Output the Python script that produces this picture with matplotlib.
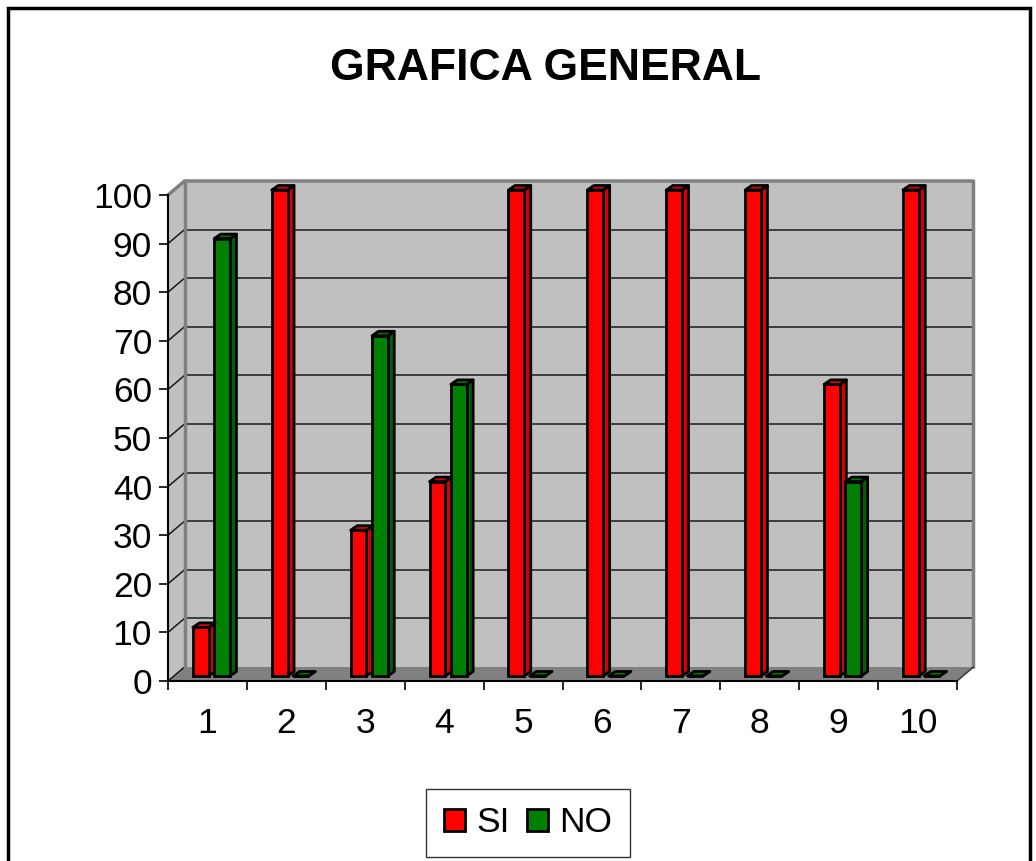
import matplotlib
matplotlib.use("Agg")
import matplotlib.pyplot as plt
from matplotlib.patches import Polygon, Patch, Rectangle

plt.rcParams['font.family'] = ['Liberation Sans', 'DejaVu Sans']

# data
categories = [1, 2, 3, 4, 5, 6, 7, 8, 9, 10]
si_values = [10, 100, 30, 40, 100, 100, 100, 100, 60, 100]
no_values = [90, 0, 70, 60, 0, 0, 0, 0, 40, 0]
series_names = ["SI", "NO"]
title = "GRAFICA GENERAL"

W, H = 1036, 861
fig = plt.figure(figsize=(W / 100, H / 100), dpi=100)
fig.patch.set_facecolor("white")

# outer frame
fig.patches.append(Rectangle((8 / W, -0.05), 1022 / W, 1.05 - 8 / H,
                             transform=fig.transFigure, fill=False,
                             edgecolor="black", linewidth=2.5))

ax = fig.add_axes([168 / W, (H - 681) / H, 789 / W, 486 / H])
ax.set_xlim(0.5, 10.5)
ax.set_ylim(0, 100)
ax.patch.set_visible(False)

# pixel -> data scale
sx = 10 / 789
sy = 100 / 486
dxw, dyw = 16.5 * sx, 14 * sy      # wall depth
dxb, dyb = 6.5 * sx, 4.5 * sy      # bar depth
base = 5 * sy                      # bars sit a bit behind the front edge

x0, x1 = 0.5, 10.5

# back wall
ax.add_patch(Polygon([(x0 + dxw, dyw), (x1 + dxw, dyw), (x1 + dxw, 100 + dyw), (x0 + dxw, 100 + dyw)],
                     closed=True, facecolor="#c0c0c0", edgecolor="none", zorder=0, clip_on=False))
# left wall
ax.add_patch(Polygon([(x0, 0), (x0 + dxw, dyw), (x0 + dxw, 100 + dyw), (x0, 100)],
                     closed=True, facecolor="#c0c0c0", edgecolor="none", zorder=0, clip_on=False))
# floor
ax.add_patch(Polygon([(x0, 0), (x1, 0), (x1 + dxw, dyw), (x0 + dxw, dyw)],
                     closed=True, facecolor="#808080", edgecolor="none", zorder=0.5, clip_on=False))

# gridlines on back wall + left wall
for v in range(10, 100, 10):
    ax.plot([x0 + dxw, x1 + dxw], [v + dyw, v + dyw], color="#1a1a1a", lw=1.1, zorder=1, clip_on=False)
for v in range(0, 100, 10):
    ax.plot([x0, x0 + dxw], [v, v + dyw], color="#1a1a1a", lw=1.1, zorder=1, clip_on=False)

# wall borders
ax.plot([x0, x0 + dxw, x1 + dxw, x1 + dxw], [100, 100 + dyw, 100 + dyw, dyw],
        color="#808080", lw=2.5, zorder=1.2, clip_on=False)
ax.plot([x0 + dxw, x0 + dxw], [dyw, 100 + dyw], color="#808080", lw=2.5, zorder=1.2, clip_on=False)
ax.plot([x1, x1 + dxw], [0, dyw], color="#404040", lw=1.2, zorder=1.2, clip_on=False)

# bars
bar_w = 0.2
offsets = [-0.185, 0.085]
colors = [("#ff0000", "#d80000", "#e00000"), ("#008000", "#006000", "#007000")]
for values, off, (front, side, top) in zip([si_values, no_values], offsets, colors):
    xs = [c + off for c in categories]
    bars = ax.bar(xs, values, width=bar_w, bottom=base, align="edge",
                  color=front, edgecolor="black", linewidth=2, zorder=3)
    for rect, v in zip(bars, values):
        bx = rect.get_x()
        bw = rect.get_width()
        yb = rect.get_y()
        yt = yb + rect.get_height()
        if v > 0:
            ax.add_patch(Polygon([(bx + bw, yb), (bx + bw + dxb, yb + dyb), (bx + bw + dxb, yt + dyb), (bx + bw, yt)],
                                 closed=True, facecolor=side, edgecolor="black", lw=2, zorder=2.9,
                                 joinstyle="round", clip_on=False))
        ax.add_patch(Polygon([(bx, yt), (bx + bw, yt), (bx + bw + dxb, yt + dyb), (bx + dxb, yt + dyb)],
                             closed=True, facecolor=top, edgecolor="black", lw=2, zorder=3.1,
                             joinstyle="round", clip_on=False))
for b in ax.patches:
    b.set_clip_on(False)

# axes lines
for s in ["top", "right"]:
    ax.spines[s].set_visible(False)
for s in ["left", "bottom"]:
    ax.spines[s].set_color("black")
    ax.spines[s].set_linewidth(1.5)
    ax.spines[s].set_zorder(4)

ax.set_yticks(range(0, 101, 10))
ax.tick_params(axis="y", length=6.5, width=1.2, pad=5, labelsize=25.5)
ax.set_xticks([c - 0.5 for c in categories] + [categories[-1] + 0.5])
ax.set_xticklabels([])
ax.tick_params(axis="x", which="major", length=6.5, width=1.2)
ax.set_xticks(categories, minor=True)
ax.set_xticklabels([str(c) for c in categories], minor=True)
ax.tick_params(axis="x", which="minor", length=0, pad=19, labelsize=25.5)

fig.text(546 / W, 1 - 69 / H, title, ha="center", va="center", fontsize=32, fontweight="bold")

handles = [Patch(facecolor=colors[0][0], edgecolor="black", linewidth=2),
           Patch(facecolor=colors[1][0], edgecolor="black", linewidth=2)]
leg = fig.legend(handles, series_names, loc="center", bbox_to_anchor=(528 / W, 1 - 823 / H),
                 ncol=2, fontsize=25.5, frameon=True, fancybox=False, edgecolor="black",
                 handlelength=0.6, handleheight=0.6, handletextpad=0.3, columnspacing=0.5,
                 borderpad=0.5, borderaxespad=0)
leg.get_frame().set_linewidth(1)

fig.savefig("out.png", dpi=100)
